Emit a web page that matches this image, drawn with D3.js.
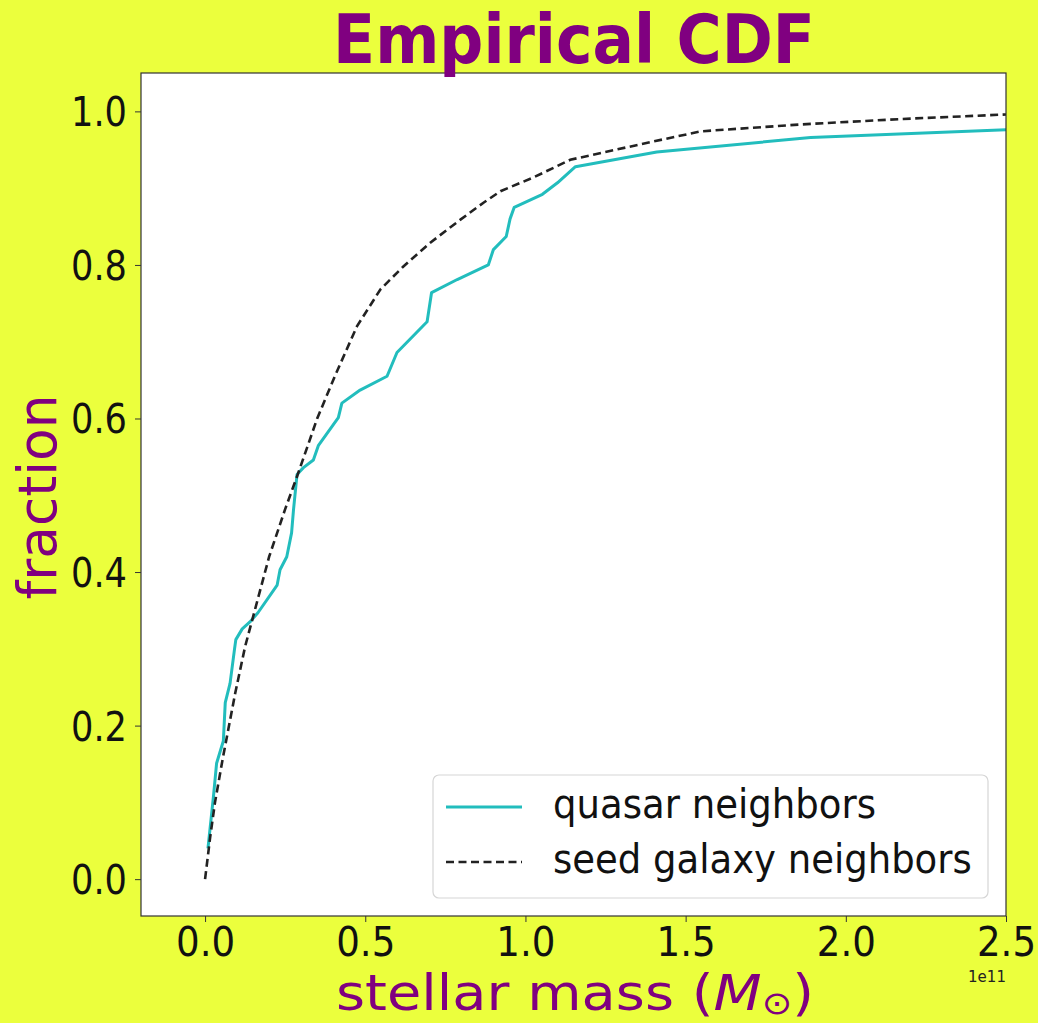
<!DOCTYPE html>
<html>
<head>
<meta charset="utf-8">
<script src="https://cdn.jsdelivr.net/npm/d3@7"></script>
<style>
  html, body { margin: 0; padding: 0; background: #ebff3d; }
  svg { display: block; }
</style>
</head>
<body>
<svg id="chart" width="1038" height="1023"></svg>
<script>
// Stellar masses in units of 1e11 solar masses and cumulative fractions
const quasarMass = [0.009, 0.026, 0.036, 0.057, 0.063, 0.078, 0.092, 0.096, 0.116, 0.14, 0.165, 0.225, 0.234, 0.255, 0.27, 0.276, 0.287, 0.307, 0.338, 0.354, 0.416, 0.427, 0.484, 0.568, 0.599, 0.693, 0.707, 0.787, 0.884, 0.9, 0.94, 0.952, 0.965, 1.053, 1.10, 1.156, 1.41, 1.89, 2.5];
const quasarFrac = [0.04, 0.107, 0.151, 0.18, 0.23, 0.255, 0.3, 0.312, 0.326, 0.335, 0.347, 0.383, 0.403, 0.42, 0.451, 0.481, 0.527, 0.536, 0.546, 0.565, 0.601, 0.62, 0.637, 0.655, 0.686, 0.726, 0.764, 0.781, 0.8, 0.82, 0.837, 0.86, 0.875, 0.892, 0.907, 0.928, 0.947, 0.966, 0.976];

const seedMass = [0.0, 0.016, 0.031, 0.056, 0.094, 0.125, 0.15, 0.2, 0.25, 0.29, 0.35, 0.405, 0.474, 0.547, 0.619, 0.703, 0.797, 0.869, 0.922, 1.025, 1.14, 1.39, 1.547, 1.86, 2.17, 2.5];
const seedFrac = [0.0, 0.055, 0.1, 0.159, 0.242, 0.303, 0.342, 0.42, 0.482, 0.528, 0.6, 0.655, 0.72, 0.768, 0.798, 0.829, 0.859, 0.881, 0.896, 0.914, 0.937, 0.96, 0.974, 0.983, 0.99, 0.996];

const xTicks = [0.0, 0.5, 1.0, 1.5, 2.0, 2.5];
const yTicks = [0.0, 0.2, 0.4, 0.6, 0.8, 1.0];
const seriesNames = ["quasar neighbors", "seed galaxy neighbors"];

const svg = d3.select("#chart");
const plot = { left: 141, right: 1006, top: 73, bottom: 916 };
const purple = "#800080";
const cyan = "#22bdbd";

const x = d3.scaleLinear().domain([-0.2, 2.5]).range([plot.left, plot.right]);
const y = d3.scaleLinear().domain([-0.048, 1.05]).range([plot.bottom, plot.top]);

// horizontally fit a text element to a given width around its anchor point
function fit(sel, width, tx, ty, rot) {
  const w = sel.node().getBBox().width;
  const s = width / w;
  sel.attr("transform", `translate(${tx},${ty})${rot ? ` rotate(${rot})` : ""} scale(${s},1)`);
}

// plot background
svg.append("rect")
  .attr("x", plot.left).attr("y", plot.top)
  .attr("width", plot.right - plot.left).attr("height", plot.bottom - plot.top)
  .attr("fill", "#ffffff");

svg.append("clipPath").attr("id", "plotclip").append("rect")
  .attr("x", plot.left).attr("y", plot.top)
  .attr("width", plot.right - plot.left).attr("height", plot.bottom - plot.top);

const line = d3.line().x(d => x(d[0])).y(d => y(d[1]));

const quasarPts = quasarMass.map((m, i) => [m, quasarFrac[i]]);
const seedPts = seedMass.map((m, i) => [m, seedFrac[i]]);

const lines = svg.append("g").attr("clip-path", "url(#plotclip)");
lines.append("path").datum(quasarPts)
  .attr("d", line).attr("fill", "none")
  .attr("stroke", cyan).attr("stroke-width", 3)
  .attr("stroke-linejoin", "round");
lines.append("path").datum(seedPts)
  .attr("d", line).attr("fill", "none")
  .attr("stroke", "#222222").attr("stroke-width", 2.6)
  .attr("stroke-dasharray", "8,4.5");

// axes
const xAxis = svg.append("g")
  .attr("transform", `translate(0,${plot.bottom})`)
  .call(d3.axisBottom(x).tickValues(xTicks).tickFormat(d3.format(".1f")).tickSizeOuter(0).tickSize(6));
const yAxis = svg.append("g")
  .attr("transform", `translate(${plot.left},0)`)
  .call(d3.axisLeft(y).tickValues(yTicks).tickFormat(d3.format(".1f")).tickSizeOuter(0).tickSize(6));

[xAxis, yAxis].forEach(a => {
  a.select(".domain").remove();
  a.selectAll(".tick line").attr("stroke", "#333").attr("stroke-width", 1);
  a.selectAll(".tick text")
    .attr("font-family", "DejaVu Sans").attr("font-size", 40).attr("fill", "#111");
});
xAxis.selectAll(".tick text").each(function () {
  const t = d3.select(this);
  t.attr("x", 0).attr("y", 0).attr("dy", null).attr("text-anchor", "middle");
  t.attr("transform", "translate(0,40) scale(0.93,1)");
});
yAxis.selectAll(".tick text").each(function () {
  const t = d3.select(this);
  t.attr("x", 0).attr("y", 0).attr("dy", "0.36em").attr("text-anchor", "end");
  t.attr("transform", "translate(-14,0) scale(0.88,1)");
});

// frame
svg.append("rect")
  .attr("x", plot.left).attr("y", plot.top)
  .attr("width", plot.right - plot.left).attr("height", plot.bottom - plot.top)
  .attr("fill", "none").attr("stroke", "#333").attr("stroke-width", 1.2);

// title
const title = svg.append("text")
  .attr("text-anchor", "middle").attr("font-family", "DejaVu Sans")
  .attr("font-weight", "bold").attr("font-size", 68).attr("fill", purple)
  .text("Empirical CDF");
fit(title, 482, 574, 63);

// axis labels
const xl = svg.append("text")
  .attr("text-anchor", "middle").attr("font-family", "DejaVu Sans")
  .attr("font-size", 49).attr("fill", purple);
xl.append("tspan").text("stellar mass (");
xl.append("tspan").attr("font-style", "italic").text("M");
xl.append("tspan").attr("font-size", 32).attr("dy", 4).text("⊙");
xl.append("tspan").attr("dy", -4).text(")");
fit(xl, 478, 575, 1010);

const yl = svg.append("text")
  .attr("text-anchor", "middle").attr("font-family", "DejaVu Sans")
  .attr("font-size", 54).attr("fill", purple)
  .text("fraction");
fit(yl, 205, 56, 497, -90);

// offset text
svg.append("text")
  .attr("x", 987).attr("y", 982).attr("text-anchor", "middle")
  .attr("font-family", "DejaVu Sans").attr("font-size", 15).attr("fill", "#222")
  .text("1e11");

// legend
const lg = svg.append("g");
lg.append("rect")
  .attr("x", 433).attr("y", 775).attr("width", 555).attr("height", 123)
  .attr("rx", 6).attr("fill", "#ffffff").attr("fill-opacity", 0.85)
  .attr("stroke", "#d6d6d6").attr("stroke-width", 1.2);
const legendRows = [
  { name: seriesNames[0], color: cyan, dash: null, w: 3, ly: 807, ty: 818, tw: 323 },
  { name: seriesNames[1], color: "#222222", dash: "8,4.5", w: 2.6, ly: 862, ty: 873, tw: 419 }
];
legendRows.forEach(r => {
  lg.append("line")
    .attr("x1", 446).attr("x2", 522).attr("y1", r.ly).attr("y2", r.ly)
    .attr("stroke", r.color).attr("stroke-width", r.w)
    .attr("stroke-dasharray", r.dash);
  const t = lg.append("text")
    .attr("text-anchor", "start").attr("font-family", "DejaVu Sans")
    .attr("font-size", 40).attr("fill", "#111").text(r.name);
  fit(t, r.tw, 553, r.ty);
});
</script>
</body>
</html>
